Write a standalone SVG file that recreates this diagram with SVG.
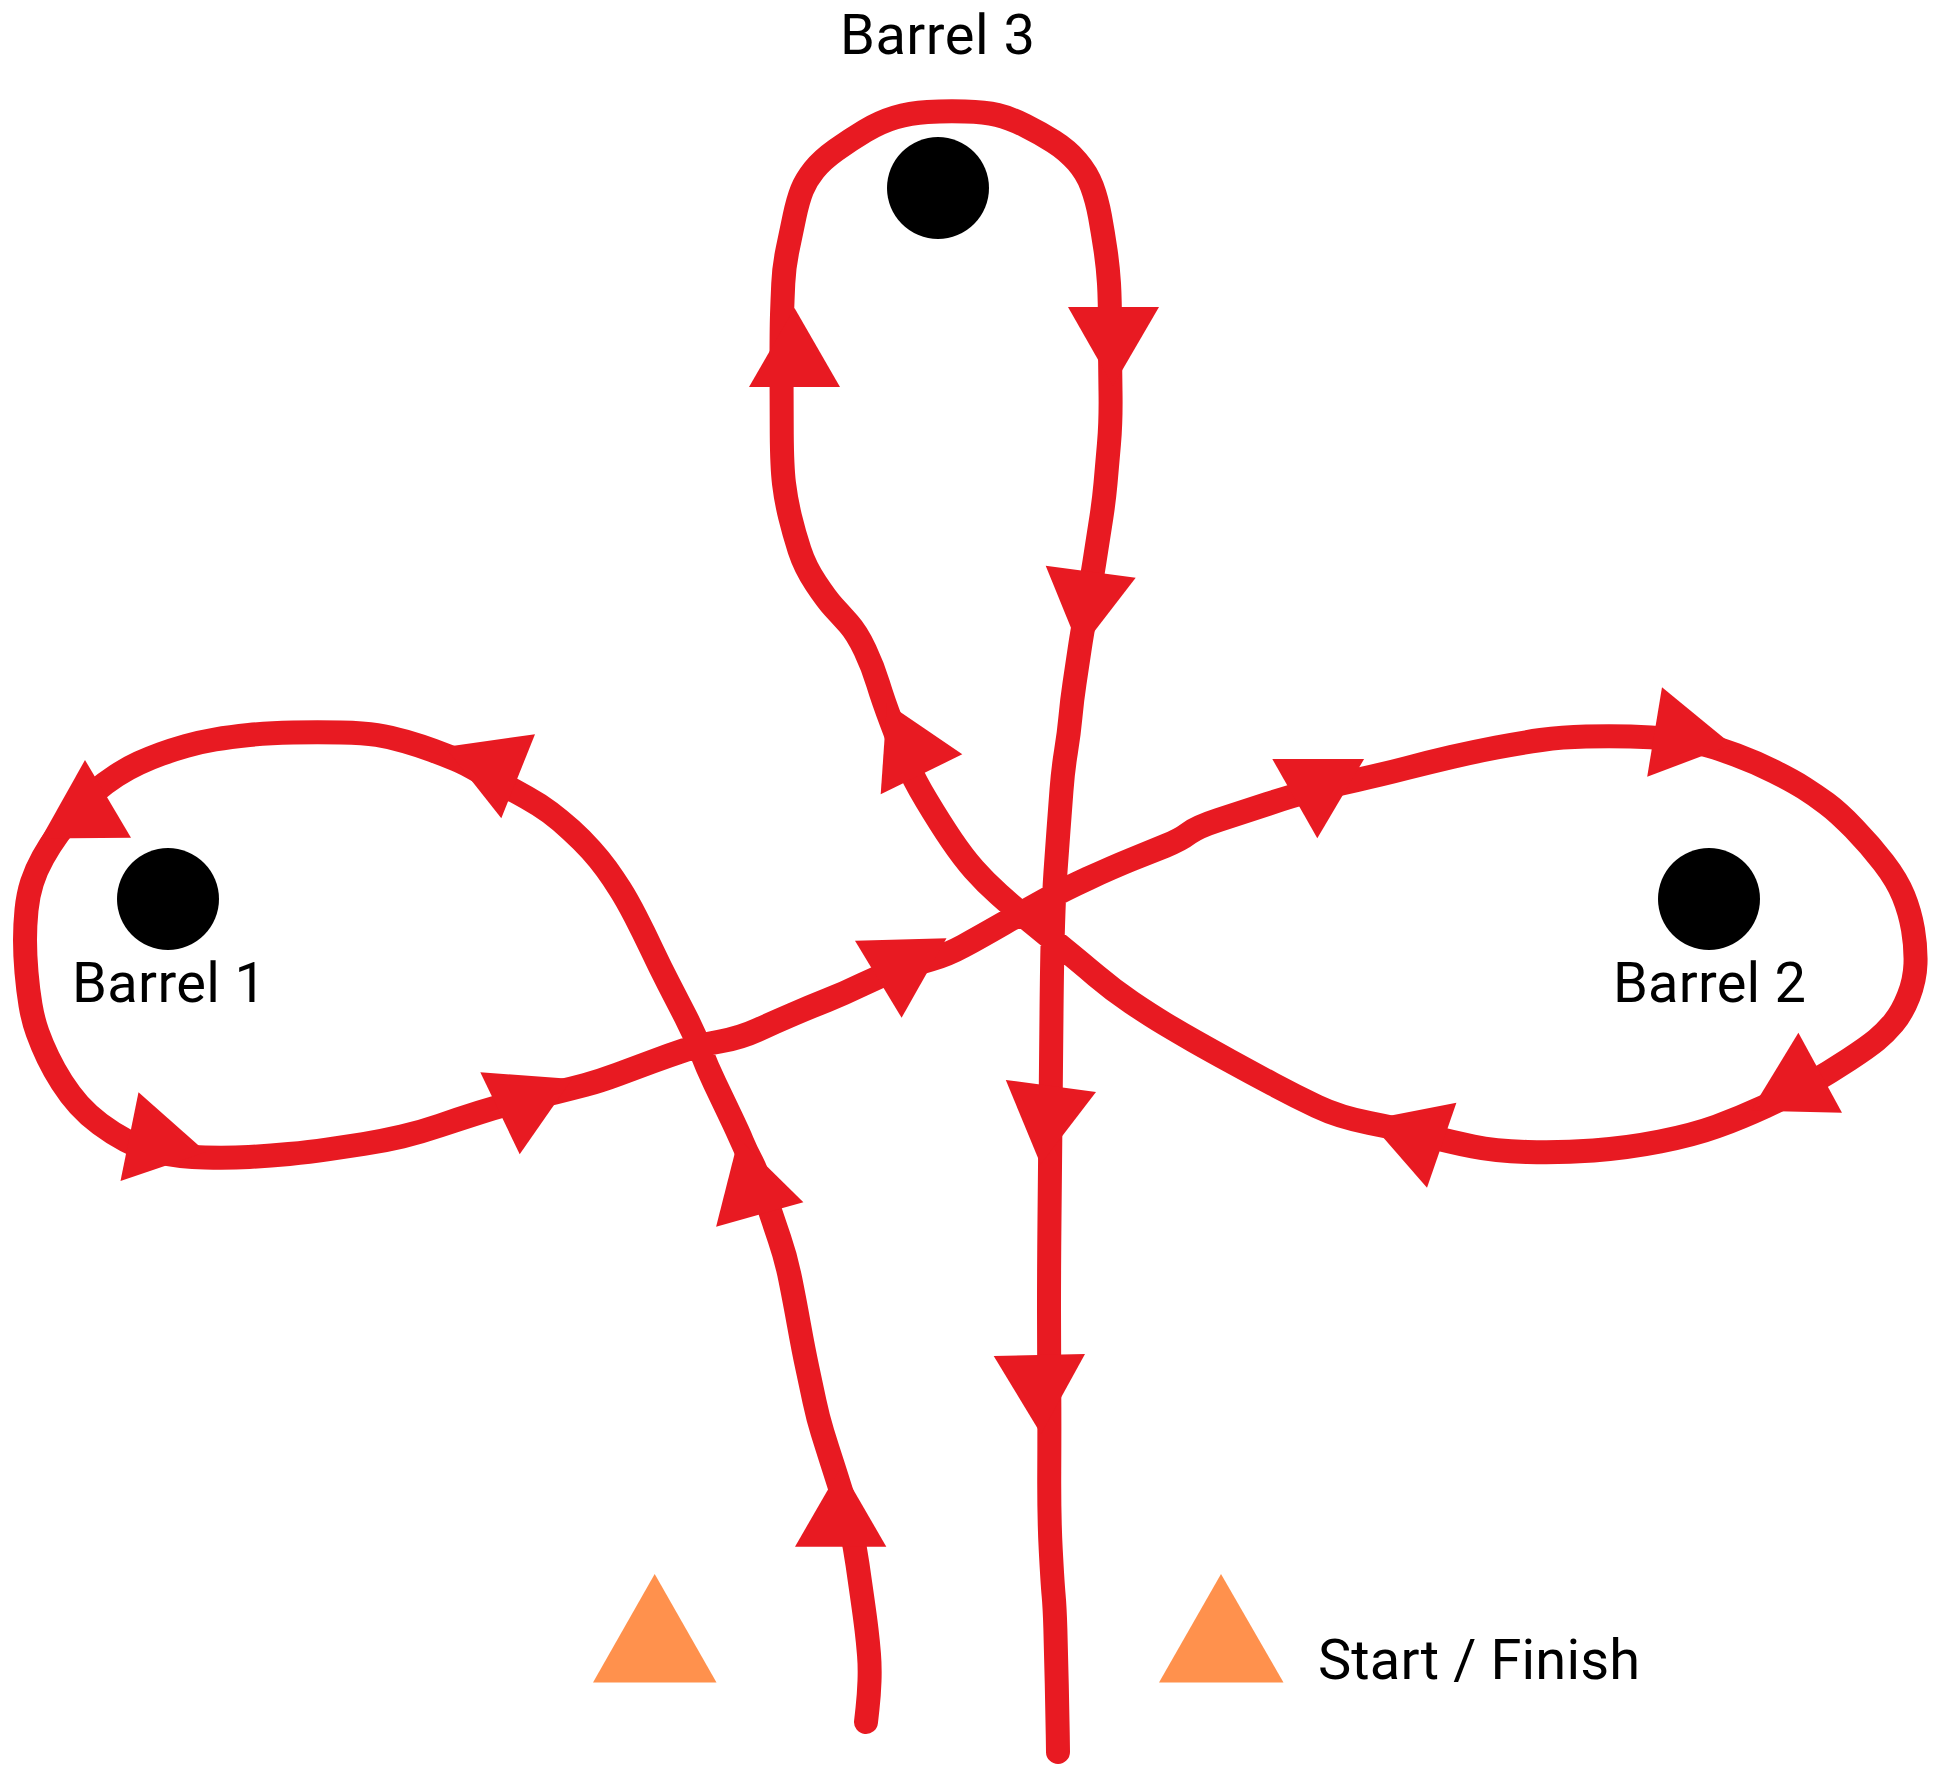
<svg xmlns="http://www.w3.org/2000/svg" width="1949" height="1767" viewBox="0 0 1949 1767">
  <style>
    .route { fill: none; stroke: #E81A22; stroke-width: 24; stroke-linecap: round; stroke-linejoin: round; }
    .head { fill: #E81A22; }
    .barrel { fill: #000000; }
    .cone { fill: #FF914D; }
    .label { font-family: Roboto, "Open Sans", "Liberation Sans", sans-serif; font-size: 56px; fill: #000000; }
  </style>

  <rect x="0" y="0" width="1949" height="1767" fill="#FFFFFF"/>

  <!-- riding route: one continuous freehand line, arrowheads laid over it -->
  <g id="route">
    <path class="route" d="M866,1722 L867.5,1708.5
      Q869,1695 869.5,1681 Q870,1667 869,1654.5 Q868,1642 866.5,1629.5 Q865,1617 862.5,1599.5
      Q860,1582 857.5,1564.5 Q855,1547 851,1528.5 Q847,1510 842,1494 Q837,1478 832,1462.5
      Q827,1447 822.5,1432.5 Q818,1418 814.5,1401.5 Q811,1385 807.25,1367.5 Q803.5,1350 799,1325
      Q794.5,1300 790.25,1279 Q786,1258 779.5,1239 Q773,1220 765,1196 Q757,1172 751.3,1161
      Q745.6,1150 742.05,1141.5 Q738.5,1133 730.65,1116.5 Q722.8,1100 714.9,1083.5 Q707,1067 700.5,1050
      Q694,1033 685.5,1016.5 Q677,1000 668.5,983.5 Q660,967 652,950 Q644,933 635.5,916.5
      Q627,900 620,889 Q613,878 606.5,869 Q600,860 591,850 Q582,840 571,830
      Q560,820 550,812.5 Q540,805 526.5,797.5 Q513,790 501.5,784 Q490,778 477.5,770.5
      Q465,763 455,759 Q445,755 433,750.5 Q421,746 405.5,741.5 Q390,737 377,735
      Q364,733 341,732.5 Q318,732 293,732.5 Q268,733 249,735 Q230,737 215,739.5
      Q200,742 186,746 Q172,750 161,754 Q150,758 139,763 Q128,768 116.5,775.5
      Q105,783 95,791.5 Q85,800 75.5,811.5 Q66,823 58,834 Q50,845 43,857.5
      Q36,870 32,882.5 Q28,895 26.5,910 Q25,925 25,940 Q25,955 26.5,972.5
      Q28,990 30.5,1005 Q33,1020 37.5,1032.5 Q42,1045 48,1057.5 Q54,1070 62,1082.5
      Q70,1095 79,1105 Q88,1115 100,1124 Q112,1133 126,1140.5 Q140,1148 160,1152.5
      Q180,1157 205,1157.5 Q230,1158 249,1157 Q268,1156 289,1154 Q310,1152 327,1149.5
      Q344,1147 363.5,1144 Q383,1141 402,1136.5 Q421,1132 440,1125.5 Q459,1119 479.5,1112.5
      Q500,1106 520,1101 Q540,1096 555,1092.5 Q570,1089 585,1085 Q600,1081 617.5,1074.5
      Q635,1068 652.5,1061.5 Q670,1055 685,1050 Q700,1045 720,1041.5 Q740,1038 757.5,1030
      Q775,1022 792.5,1014.5 Q810,1007 827.5,1000 Q845,993 862.5,984.5 Q880,976 897.5,970
      Q915,964 931,959.5 Q947,955 963.5,946 Q980,937 1003.5,923.5 Q1027,910 1045,900
      Q1063,890 1088,878.5 Q1113,867 1131.5,859.5 Q1150,852 1165,846 Q1180,840 1188.5,833.5
      Q1197,827 1218.5,820 Q1240,813 1267.5,804 Q1295,795 1312.5,790.5 Q1330,786 1357,780
      Q1384,774 1407,768 Q1430,762 1451.5,757 Q1473,752 1496.5,747.5 Q1520,743 1541,740
      Q1562,737 1586,736.5 Q1610,736 1630.5,736.5 Q1651,737 1670.5,739 Q1690,741 1703.5,744.5
      Q1717,748 1736,755 Q1755,762 1774,771.5 Q1793,781 1804,788 Q1815,795 1826.5,803.5
      Q1838,812 1854,828.5 Q1870,845 1883.5,862.5 Q1897,880 1903.5,896 Q1910,912 1913,929.5
      Q1916,947 1915.5,963.5 Q1915,980 1908.5,996.5 Q1902,1013 1893.5,1023 Q1885,1033 1876.5,1040
      Q1868,1047 1849,1059.5 Q1830,1072 1810,1083.5 Q1790,1095 1765,1106.5 Q1740,1118 1716.5,1126.5
      Q1693,1135 1660,1141.5 Q1627,1148 1593.5,1150.5 Q1560,1153 1527.5,1152 Q1495,1151 1473,1146.5
      Q1451,1142 1425.5,1135.5 Q1400,1129 1369.5,1123 Q1339,1117 1317,1106.5 Q1295,1096 1272.5,1084
      Q1250,1072 1230,1061 Q1210,1050 1195,1041.5 Q1180,1033 1165,1024 Q1150,1015 1131.5,1002.5
      Q1113,990 1096.5,976 Q1080,962 1066.5,951 Q1053,940 1033,923.5 Q1013,907 999,894.5
      Q985,882 974,869.5 Q963,857 951.5,840 Q940,823 926.5,800.5 Q913,778 906.5,761.5
      Q900,745 891.5,722.5 Q883,700 878,683.5 Q873,667 865,650 Q857,633 848.5,623.5
      Q840,614 833.5,607 Q827,600 816,583.5 Q805,567 799.5,550 Q794,533 790,516.5
      Q786,500 784,483.5 Q782,467 781.75,433.5 Q781.5,400 781.5,365 Q781.5,330 782,315
      Q782.5,300 783.25,283.5 Q784,267 787.5,250 Q791,233 794.5,216.5 Q798,200 802,190
      Q806,180 814,170 Q822,160 836,150 Q850,140 865,131 Q880,122 895,117.5
      Q910,113 927.5,112 Q945,111 965,111.5 Q985,112 997.5,115 Q1010,118 1025,125.5
      Q1040,133 1053.5,141.5 Q1067,150 1077,161.5 Q1087,173 1092,186.5 Q1097,200 1100,216.5
      Q1103,233 1105.5,250 Q1108,267 1109,283.5 Q1110,300 1110,331 Q1110,362 1110.5,391
      Q1111,420 1109,443.5 Q1107,467 1105.5,483.5 Q1104,500 1101.5,516.5 Q1099,533 1094.5,561.5
      Q1090,590 1086,611.5 Q1082,633 1079.5,650 Q1077,667 1074.5,683.5 Q1072,700 1070.5,716.5
      Q1069,733 1066,751.5 Q1063,770 1061.5,790 Q1060,810 1058.5,830 Q1057,850 1055.5,871.5
      Q1054,893 1053,926.5 Q1052,960 1051.5,1013.5 Q1051,1067 1050.5,1117 Q1050,1167 1049.5,1217
      Q1049,1267 1049,1310 Q1049,1353 1049.25,1390 Q1049.5,1427 1049.25,1472 Q1049,1517 1050.75,1550
      Q1052.5,1583 1053.6,1595 Q1054.7,1607 1055.35,1628.5 Q1056,1650 1056.75,1683.5 Q1057.5,1717 1057.75,1734.5
      L1058,1752"/>

    <!-- arrowheads -->
    <polygon class="head" points="795,1546.7 886.3,1546.7 840.6,1467.7"/>
    <polygon class="head" points="803.4,1202.3 716.1,1226.7 738.5,1138.4"/>
    <polygon class="head" points="535,734.3 501.3,818.3 445,747"/>
    <polygon class="head" points="85,760 131,837.7 41,838.5"/>
    <polygon class="head" points="120.5,1181 138.5,1092.3 206,1152"/>
    <polygon class="head" points="480.3,1072.3 572.1,1079 519.7,1154.3"/>
    <polygon class="head" points="855,940.7 946.5,938.3 901.6,1017.7"/>
    <polygon class="head" points="1272.3,759 1364.1,759 1317.3,838.3"/>
    <polygon class="head" points="1647.2,776.7 1662,687.3 1732,744.8"/>
    <polygon class="head" points="1798.4,1032.7 1842,1112.7 1751,1110.5"/>
    <polygon class="head" points="1456.4,1102.7 1427,1187.7 1368,1120"/>
    <polygon class="head" points="962.3,754.3 880.7,794.3 887,703"/>
    <polygon class="head" points="749,387 840,387 794.5,308"/>
    <polygon class="head" points="1068,307 1159,307 1113,386"/>
    <polygon class="head" points="1045.7,565.7 1135.7,577.7 1080,650"/>
    <polygon class="head" points="1005.8,1080 1096,1092 1040.6,1164.3"/>
    <polygon class="head" points="993.7,1356 1085,1354 1041,1434"/>
  </g>

  <g id="barrel-1">
    <circle class="barrel" cx="168" cy="899" r="51"/>
    <text class="label" x="72" y="1001.5" textLength="194" lengthAdjust="spacing">Barrel 1</text>
  </g>

  <g id="barrel-2">
    <circle class="barrel" cx="1709" cy="899" r="51"/>
    <text class="label" x="1613" y="1001.5" textLength="193" lengthAdjust="spacing">Barrel 2</text>
  </g>

  <g id="barrel-3">
    <circle class="barrel" cx="938" cy="188" r="51"/>
    <text class="label" x="840" y="54" textLength="195" lengthAdjust="spacing">Barrel 3</text>
  </g>

  <g id="start-finish">
    <polygon class="cone" points="593,1682.5 716.5,1682.5 654.7,1574"/>
    <polygon class="cone" points="1159,1682.5 1283.5,1682.5 1221,1574"/>
    <text class="label" x="1318" y="1679" textLength="322" lengthAdjust="spacing">Start / Finish</text>
  </g>
</svg>
